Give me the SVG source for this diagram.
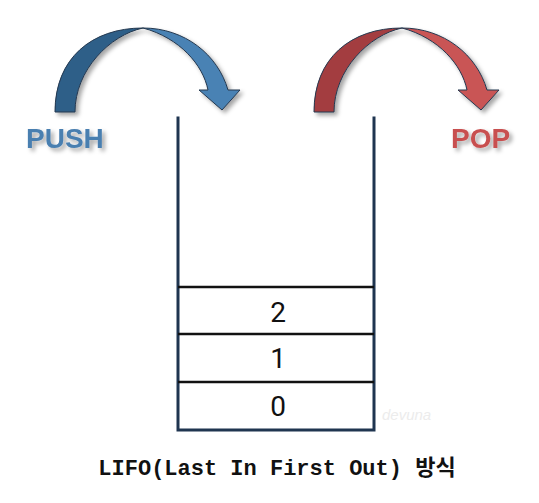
<svg xmlns="http://www.w3.org/2000/svg" width="539" height="503" viewBox="0 0 539 503">
<defs>
<filter id="sh" x="-20%" y="-20%" width="150%" height="150%">
<feDropShadow dx="3" dy="3" stdDeviation="2" flood-color="#000" flood-opacity="0.35"/>
</filter>
<style>
.wall{stroke:#1f3550;stroke-width:3;fill:none;stroke-linecap:square}
.row{stroke:#111;stroke-width:2.5;fill:none}
.num{font-family:Roboto,"Noto Sans",sans-serif;font-size:28px;fill:#111;text-anchor:middle}
.lbl{font-family:"Liberation Sans",Arial,sans-serif;font-weight:bold;font-size:28px}
.edge{stroke:#24384f;stroke-width:1;stroke-linejoin:round}
</style>
<path id="arcL" d="M55,112 C55,58 92,28 143,28 C110,35 75,70 75,112 Z"/>
<path id="arcR" d="M143,28 C185,28 218,55 228,90 L240,90 L222,110 L199,90 L208,90 C203,65 180,38 143,28 Z"/>
</defs>
<rect width="539" height="503" fill="#fff"/>
<g id="push" filter="url(#sh)">
<use href="#arcL" class="edge" fill="#2f5f88"/>
<use href="#arcR" class="edge" fill="#4a82b4"/>
</g>
<g id="pop" filter="url(#sh)" transform="translate(259,0)">
<use href="#arcL" class="edge" fill="#a33e40"/>
<use href="#arcR" class="edge" fill="#c95455"/>
</g>
<g id="push-label" filter="url(#sh)"><text class="lbl" x="26" y="148" fill="#4a7fb0">PUSH</text></g>
<g id="pop-label" filter="url(#sh)"><text class="lbl" x="451" y="148" fill="#c85050">POP</text></g>
<g id="stack">
<path class="wall" d="M178,118 V430 H374 V118"/>
<line class="row" x1="178" y1="287" x2="374" y2="287"/>
<line class="row" x1="178" y1="334" x2="374" y2="334"/>
<line class="row" x1="178" y1="382" x2="374" y2="382"/>
</g>
<g id="item2"><text class="num" x="278" y="322">2</text></g>
<g id="item1"><text class="num" x="278" y="368">1</text></g>
<g id="item0"><text class="num" x="278" y="416">0</text></g>
<text x="382" y="420" font-family="'Liberation Sans',sans-serif" font-style="italic" font-size="15" fill="#ececec">devuna</text>
<text x="277" y="475" text-anchor="middle" font-family="'Liberation Mono','Noto Sans CJK KR',monospace" font-weight="bold" font-size="22" fill="#111">LIFO(Last In First Out) 방식</text>
</svg>
